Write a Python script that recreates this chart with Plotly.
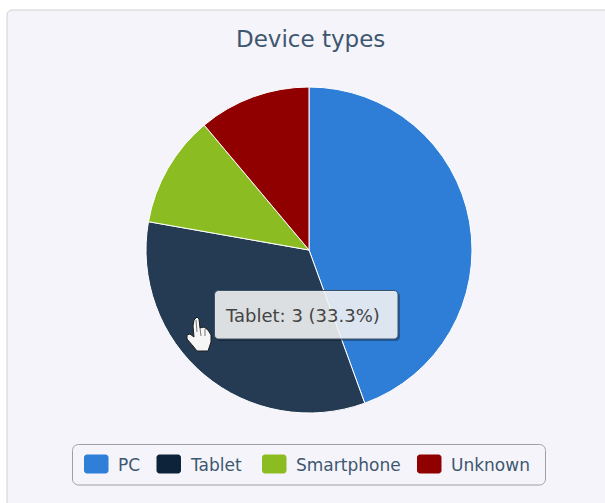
import plotly.graph_objects as go

labels = ["PC", "Tablet", "Smartphone", "Unknown"]
values = [4, 3, 1, 1]
slice_colors = ["#2e7ed8", "#243b53", "#8bbc21", "#910000"]
legend_colors = ["#2f7ed8", "#0d233a", "#8bbc21", "#910000"]
title_text = "Device types"
tooltip_text = "Tablet: 3 (33.3%)"

W, H = 605, 503
FONT = "DejaVu Sans"


def X(p):
    return p / W


def Y(p):
    return 1 - p / H


def rr(x0, y0, x1, y1, r):
    k = r * 0.45
    pts = [
        f"M {X(x0 + r)} {Y(y0)}", f"L {X(x1 - r)} {Y(y0)}",
        f"C {X(x1 - k)} {Y(y0)} {X(x1)} {Y(y0 + k)} {X(x1)} {Y(y0 + r)}",
        f"L {X(x1)} {Y(y1 - r)}",
        f"C {X(x1)} {Y(y1 - k)} {X(x1 - k)} {Y(y1)} {X(x1 - r)} {Y(y1)}",
        f"L {X(x0 + r)} {Y(y1)}",
        f"C {X(x0 + k)} {Y(y1)} {X(x0)} {Y(y1 - k)} {X(x0)} {Y(y1 - r)}",
        f"L {X(x0)} {Y(y0 + r)}",
        f"C {X(x0)} {Y(y0 + k)} {X(x0 + k)} {Y(y0)} {X(x0 + r)} {Y(y0)}", "Z",
    ]
    return " ".join(pts)


def poly(points):
    return "M " + " L ".join(f"{X(a)} {Y(b)}" for a, b in points) + " Z"


def seg(a, b):
    return f"M {X(a[0])} {Y(a[1])} L {X(b[0])} {Y(b[1])}"


fig = go.Figure(go.Pie(
    labels=labels, values=values, sort=False, direction="clockwise", rotation=0,
    marker=dict(colors=slice_colors, line=dict(color="#ffffff", width=1)),
    textinfo="none", hoverinfo="label+value+percent",
    domain=dict(x=[X(146), X(472)], y=[Y(413), Y(87)]),
    showlegend=False,
))

shapes = [
    dict(type="path", path=rr(7, 10, 640, 540, 5), fillcolor="#f4f4fa",
         line=dict(color="#d0d0d0", width=1), layer="below"),
    dict(type="path", path=rr(72.5, 444.5, 545.5, 485, 6), fillcolor="#f4f4fa",
         line=dict(color="#a0a0a0", width=1), layer="below"),
]
annotations = [
    dict(text=title_text, x=X(310), y=Y(39), xref="paper", yref="paper", showarrow=False,
         xanchor="center", yanchor="middle", font=dict(family=FONT, size=23, color="#3e576f")),
]

swatch_x = [84, 156.5, 262, 417]
for name, col, sx in zip(labels, legend_colors, swatch_x):
    shapes.append(dict(type="path", path=rr(sx, 454.5, sx + 24.5, 473.5, 3), fillcolor=col,
                       line=dict(width=0), layer="above"))
    annotations.append(dict(text=name, x=X(sx + 31.5), y=Y(465), xref="paper", yref="paper",
                            showarrow=False, xanchor="left", yanchor="middle",
                            font=dict(family=FONT, size=17, color="#3e576f")))

# tooltip with shadow
shapes.append(dict(type="path", path=rr(216, 292, 400, 341, 4), fillcolor="rgba(0,0,0,0.3)",
                   line=dict(width=0), layer="above"))
shapes.append(dict(type="path", path=rr(214.5, 290.5, 398, 339, 4), fillcolor="rgba(255,255,255,0.85)",
                   line=dict(color="#3c5068", width=1), layer="above"))
annotations.append(dict(text=tooltip_text, x=X(223), y=Y(315), xref="paper", yref="paper",
                        showarrow=False, xanchor="left", yanchor="middle",
                        font=dict(family=FONT, size=18, color="#444444")))

# hand cursor
hand = [(194, 320), (197, 317), (199, 319), (200, 328), (204, 327), (208, 330), (211, 335),
        (211, 342), (208, 351), (197, 351), (193, 346), (187, 339), (187, 335), (190, 334),
        (194, 337), (193, 326)]
shapes.append(dict(type="path", path=poly(hand), fillcolor="#f6f6f6",
                   line=dict(color="#1c1c1c", width=1), layer="above"))
for a, b in [((196, 320), (197, 332)), ((200, 328), (201, 336)), ((205, 329), (205, 336))]:
    shapes.append(dict(type="path", path=seg(a, b), line=dict(color="#777777", width=1), layer="above"))

fig.update_layout(
    width=W, height=H, margin=dict(l=0, r=0, t=0, b=0),
    paper_bgcolor="#ffffff", plot_bgcolor="#ffffff",
    shapes=shapes, annotations=annotations, showlegend=False,
)
fig.write_html("out.html", config={"displayModeBar": False},
               post_script="document.body.style.margin='0';document.body.style.overflow='hidden';")
